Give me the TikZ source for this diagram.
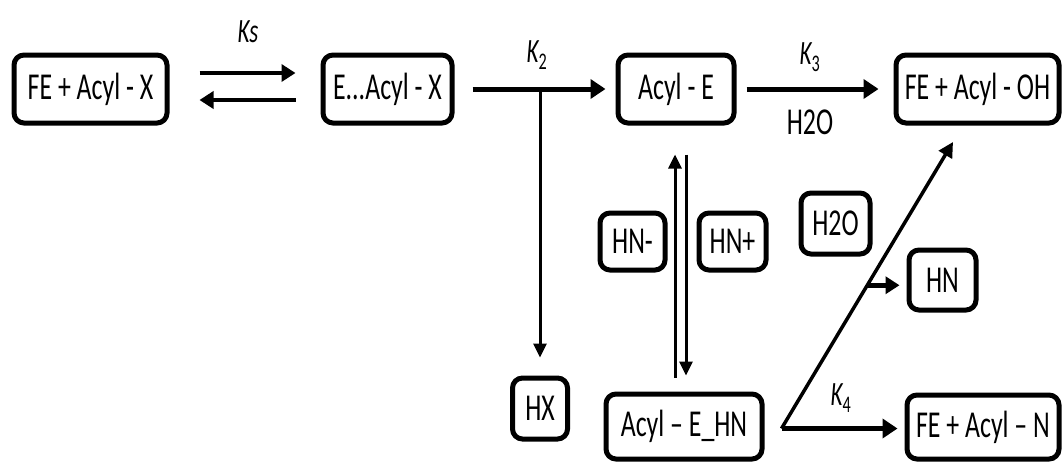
\documentclass[tikz,border=0pt]{standalone}
\usepackage{fontspec}
\setmainfont[FakeStretch=0.68]{Carlito}
\usetikzlibrary{arrows.meta,calc}

\tikzset{
    box/.style={draw, line width=5pt, rounded corners=10pt, inner sep=0pt,
        minimum height=68pt, font=\fontsize{38}{40}\selectfont},
    plain/.style={font=\fontsize{38}{40}\selectfont},
    rate/.style={font=\fontsize{34}{36}\selectfont\itshape},
    arr/.style={line width=5pt, -{Triangle[length=15pt,width=19pt]}},
    ksarr/.style={line width=4.5pt, -{Triangle[length=14pt,width=17pt]}},
    thinarr/.style={line width=3pt, -{Triangle[length=14pt,width=13pt]}},
    diagarr/.style={line width=3.5pt, -{Triangle[length=15pt,width=15pt]}},
}

\begin{document}
\begin{tikzpicture}[x=1pt,y=-1pt]
    \useasboundingbox (0,0) rectangle (1064,464);

    % Top row
    \node[box, minimum width=153pt] (fex) at (90.5,89) {FE + Acyl - X};
    \node[box, minimum width=129pt] (eax) at (387.5,89) {E...Acyl - X};
    \node[box, minimum width=116pt] (acyle) at (676,89) {Acyl - E};
    \node[box, minimum width=163pt] (feoh) at (977.5,89) {FE + Acyl - OH};

    % Lower boxes
    \node[box, minimum width=55pt, minimum height=61pt] (hx) at (540,408.5) {HX};
    \node[box, minimum width=156pt, minimum height=65pt] (aehn) at (684,426.5) {Acyl – E\_HN};
    \node[box, minimum width=65pt, minimum height=57pt] (hnm) at (632.5,241.5) {HN-};
    \node[box, minimum width=67pt, minimum height=57pt] (hnp) at (732.5,241.5) {HN+};
    \node[box, minimum width=69pt, minimum height=61pt] (water) at (835.5,223.5) {H2O};
    \node[box, minimum width=67pt, minimum height=60pt] (hn) at (942.5,280) {HN};
    \node[box, minimum width=152pt, minimum height=64pt] (fen) at (983,427) {FE + Acyl – N};

    % Rate labels
    \node[rate] (ks) at (248,32) {Ks};
    \node[rate] (k2) at (537,55) {K\textsubscript{\upshape 2}};
    \node[rate] (k3) at (810,57) {K\textsubscript{\upshape 3}};
    \node[plain] (h2o) at (810,122) {H2O};
    \node[rate] (k4) at (841,398) {K\textsubscript{\upshape 4}};

    % Binding equilibrium
    \draw[ksarr, shorten <=30pt, shorten >=25pt] ([yshift=16pt]fex.east) -- ([yshift=16pt]eax.west);
    \draw[ksarr, shorten <=25pt, shorten >=30pt] ([yshift=-11pt]eax.west) -- ([yshift=-11pt]fex.east);

    % Acylation
    \draw[arr, shorten <=18pt, shorten >=10pt] (eax) -- (acyle);
    \coordinate (kj) at (540,89);
    \draw[thinarr, shorten >=18pt] (kj) -- (hx);

    % Hydrolysis
    \draw[arr, shorten <=10pt, shorten >=15pt] (acyle) -- (feoh);

    % Acyl enzyme with nucleophile
    \draw[thinarr, shorten <=14pt, shorten >=29pt] ([xshift=-9pt]aehn.north) -- ([xshift=-9pt]aehn.north |- acyle.south);
    \draw[thinarr, shorten <=29pt, shorten >=16pt] ([xshift=2pt]aehn.north |- acyle.south) -- ([xshift=2pt]aehn.north);

    % Branches from Acyl-E_HN
    \coordinate (dbot) at ([xshift=17pt,yshift=-2pt]aehn.east);
    \coordinate (dtop) at (953,142);
    \draw[diagarr] (dbot) -- (dtop);
    \coordinate (dmid) at ($(dbot)!0.5!(dtop)$);
    \draw[ksarr, shorten >=7pt] (dmid) -- (dmid -| hn.west);
    \draw[arr, shorten >=7pt] (dbot) -- (dbot -| fen.west);
\end{tikzpicture}
\end{document}
